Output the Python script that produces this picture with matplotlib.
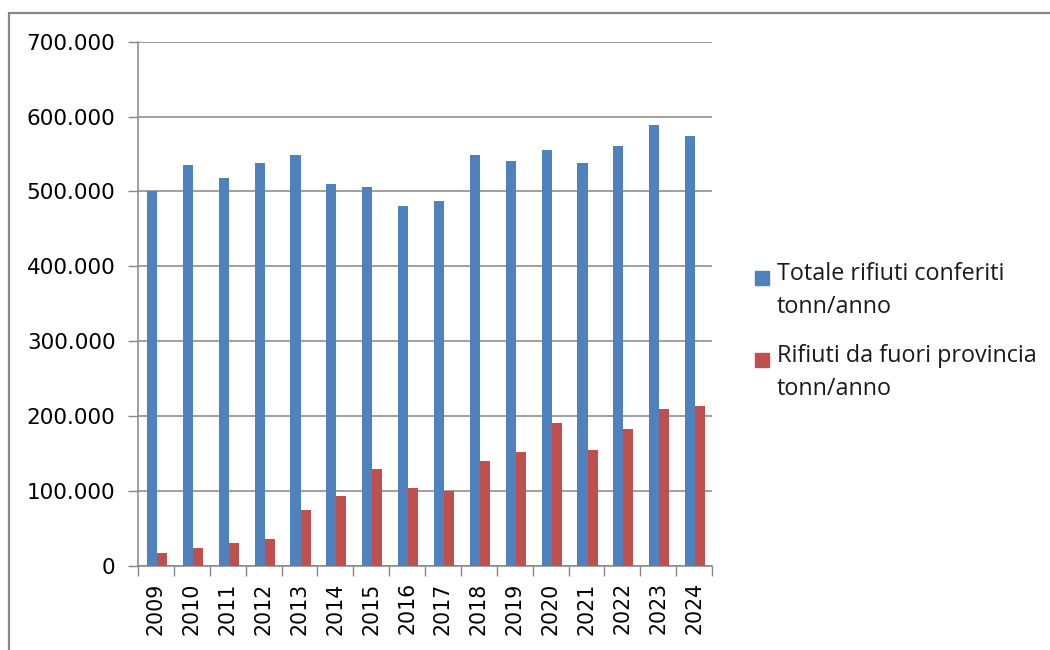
import matplotlib
matplotlib.use("Agg")
import matplotlib.pyplot as plt
import matplotlib.ticker as mticker
from matplotlib.patches import Rectangle
import numpy as np

anni = ["2009", "2010", "2011", "2012", "2013", "2014", "2015", "2016",
        "2017", "2018", "2019", "2020", "2021", "2022", "2023", "2024"]
totale_conferiti = [501000, 535000, 518000, 538000, 549000, 510000, 506000, 481000,
                    487000, 549000, 541000, 555000, 538000, 561000, 589000, 574000]
fuori_provincia = [16700, 23300, 30000, 35300, 74000, 92700, 128700, 103300,
                   99300, 139300, 151300, 190000, 154000, 182000, 208700, 214000]
etichette = ["Totale rifiuti conferiti\ntonn/anno",
             "Rifiuti da fuori provincia\ntonn/anno"]

BLU = "#4F81BD"
ROSSO = "#C0504D"
GRIGIO = "#868686"

fig = plt.figure(figsize=(10.5, 6.5), dpi=100)
ax = fig.add_axes([138/1050, 1-565.7/650, (712-138)/1050, (565.7-41.7)/650])

x = np.arange(len(anni))
w = 0.28
ax.bar(x - w/2 + 0.03, totale_conferiti, w, color=BLU, zorder=3)
ax.bar(x + w/2 + 0.03, fuori_provincia, w, color=ROSSO, zorder=3)

ax.set_xlim(-0.5, len(anni) - 0.5)
ax.set_ylim(0, 700000)
ax.set_yticks(np.arange(0, 700001, 100000))
ax.yaxis.set_major_formatter(mticker.FuncFormatter(lambda v, p: f"{int(v):,}".replace(",", ".")))
ax.yaxis.grid(True, color=GRIGIO, linewidth=1.1, zorder=0)

ax.set_xticks(x)
ax.set_xticklabels(anni, rotation=90)
ax.set_xticks(np.arange(-0.5, len(anni)), minor=True)
ax.tick_params(axis="x", which="major", length=0, pad=12, labelsize=14.8)
ax.tick_params(axis="x", which="minor", length=7, width=1, color=GRIGIO)
ax.tick_params(axis="y", length=7.2, width=1, color=GRIGIO, pad=9, labelsize=15.5)

for s in ["top", "right"]:
    ax.spines[s].set_visible(False)
for s in ["left", "bottom"]:
    ax.spines[s].set_color(GRIGIO)
    ax.spines[s].set_linewidth(1.1)

# legenda a destra, come in Excel
colori = [BLU, ROSSO]
y_leg = [271, 353]
for col, lab, yp in zip(colori, etichette, y_leg):
    fig.patches.append(Rectangle((755/1050, 1-(yp+14)/650), 14/1050, 14/650,
                                 transform=fig.transFigure, color=col))
    fig.text(777/1050, 1-(yp-9)/650, lab, fontsize=16.8, family="Open Sans",
             va="top", ha="left", linespacing=1.5, color="#1a1a1a")

# cornice del grafico
fig.patches.append(Rectangle((9/1050, -0.2), 1.2, 1.2 - 13/650, transform=fig.transFigure,
                             fill=False, edgecolor=GRIGIO, linewidth=1.6))

fig.savefig("out.png", dpi=100)
